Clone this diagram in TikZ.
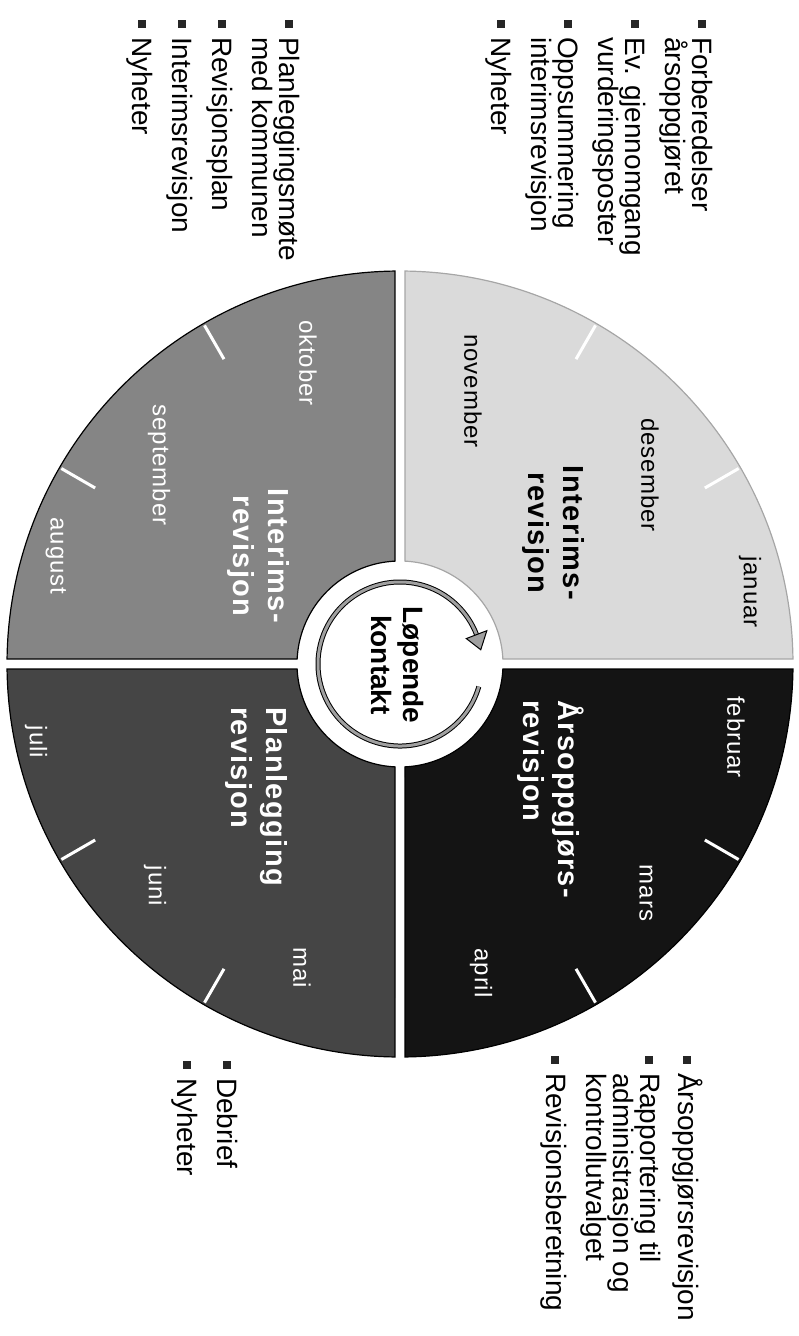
\documentclass[tikz,border=0pt]{standalone}
\usepackage{fontspec}
\setmainfont{Liberation Sans}
\newfontfamily\phasefont{Liberation Sans}[LetterSpace=5]
\newfontfamily\monthfont{Liberation Sans}[LetterSpace=4]

\definecolor{arsfill}{HTML}{141414}
\definecolor{planfill}{HTML}{454545}
\definecolor{midfill}{HTML}{858585}
\definecolor{lightfill}{HTML}{DADADA}
\definecolor{ringfill}{HTML}{A0A0A0}

\newcommand\bul{\makebox[17pt][l]{\color{black!85}\rule[5pt]{8pt}{8pt}}}
\newcommand\ind{\hspace*{17pt}}

\tikzset{
  month/.style={font=\monthfont\fontsize{24}{24}\selectfont, inner sep=0pt},
  phase/.style={font=\phasefont\bfseries\fontsize{29}{35}\selectfont, inner sep=0pt},
  tasks/.style={font=\fontsize{28}{27}\selectfont, align=left, anchor=north west, inner sep=0pt},
  monthtick/.style={white, line width=3pt}
}

\begin{document}
\begin{tikzpicture}[x=1pt, y=1pt, rotate=-90, transform shape]
    \useasboundingbox (0,0) rectangle (1336,798);
    % hjulet med de fire fasene
    \begin{scope}[shift={(664,400)}]
        \foreach \q/\col/\rim in {0/arsfill/black, 90/lightfill/gray!70, 180/midfill/black, 270/planfill/black}
            \filldraw[fill=\col, draw=\rim, line width=1.2pt] (\q+0.73:393) arc[start angle=\q+0.73, end angle=\q+89.27, radius=393]
                -- (\q+87.22:103) arc[start angle=\q+87.22, end angle=\q+2.78, radius=103] -- cycle;
        \foreach \a in {30,60,120,150,210,240,300,330}
            \draw[monthtick] (\a:352) -- (\a:391); % skille mellom maanedene
        % pil rundt midten
        \draw[line width=1pt, double=ringfill, double distance=3pt] (74:82) arc[start angle=74, end angle=-249, radius=82];
        \filldraw[fill=ringfill, draw=black, line width=1pt] (111:71) -- (111:93) -- (100:82) -- cycle;
        \node[font=\bfseries\fontsize{28}{32}\selectfont, align=center, inner sep=0pt] (kontakt) at (1,-2) {Løpende\\kontakt};
    \end{scope}
    % maanedene
    \node[month, text=black] (jan) at (592,750) {januar};
    \node[month, text=white] (feb) at (737,736) {februar};
    \node[month, text=white] (mar) at (893,646) {mars};
    \node[month, text=white] (apr) at (973,481) {april};
    \node[month, text=white] (mai) at (968,302) {mai};
    \node[month, text=white] (jun) at (886,155) {juni};
    \node[month, text=white] (jul) at (742,36) {juli};
    \node[month, text=white] (aug) at (556,56) {august};
    \node[month, text=white] (sep) at (465,159) {september};
    \node[month, text=white] (okt) at (363,308) {oktober};
    \node[month, text=black] (nov) at (391,473) {november};
    \node[month, text=black] (des) at (475,650) {desember};
    % fasene
    \node[phase, align=center] (interimA) at (533,553) {Interims-\\revisjon};
    \node[phase, align=center, text=white] (interimB) at (556,258) {Interims-\\revisjon};
    \node[phase, align=left, anchor=west, text=white] (plan) at (707,256) {Planlegging\\revisjon};
    \node[phase, align=left, anchor=west, text=white] (ars) at (700,551) {Årsoppgjørs-\\revisjon};
    % oppgaver i hver fase
    \node[tasks] (interimA-tasks) at (20,713) {\bul Forberedelser\\\ind årsoppgjøret\\[13pt]\bul Ev. gjennomgang\\\ind vurderingsposter\\[13pt]\bul Oppsummering\\\ind interimsrevisjon\\[13pt]\bul Nyheter};
    \node[tasks] (interimB-tasks) at (20,300) {\bul Planleggingsmøte\\\ind med kommunen\\[13pt]\bul Revisjonsplan\\[13pt]\bul Interimsrevisjon\\[13pt]\bul Nyheter};
    \node[tasks] (ars-tasks) at (1056,703) {\bul Årsoppgjørsrevisjon\\[11pt]\bul Rapportering til\\\ind administrasjon og\\\ind kontrollutvalget\\[13pt]\bul Revisjonsberetning};
    \node[tasks] (plan-tasks) at (1061,238) {\bul Debrief\\[13pt]\bul Nyheter};
\end{tikzpicture}
\end{document}
